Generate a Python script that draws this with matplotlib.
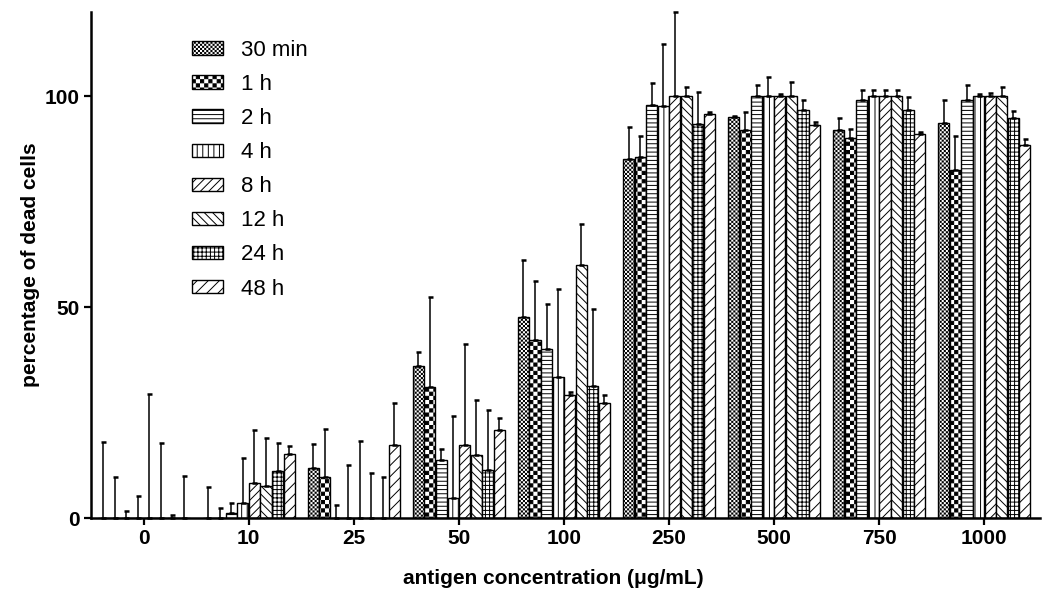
import warnings
warnings.filterwarnings('ignore')
import numpy as np
import matplotlib
matplotlib.use('Agg')
import matplotlib.pyplot as plt
import matplotlib.hatch as mhatch
from matplotlib.path import Path

# ---------------- data ----------------
concentrations = ['0', '10', '25', '50', '100', '250', '500', '750', '1000']
time_points = ['30 min', '1 h', '2 h', '4 h', '8 h', '12 h', '24 h', '48 h']

mean_30min = [0, 0, 11.8, 36.1, 47.7, 85.1, 95.1, 91.9, 93.7]
mean_1h = [0, 0, 9.8, 31.1, 42.3, 85.6, 91.9, 90.2, 82.6]
mean_2h = [0, 1.3, 0, 13.7, 40.1, 97.9, 100, 99.2, 99.1]
mean_4h = [0, 3.5, 0, 4.8, 33.5, 97.7, 100, 100, 100]
mean_8h = [0, 8.2, 0, 17.4, 29.2, 100, 100, 100, 100]
mean_12h = [0, 7.7, 0, 15.0, 59.9, 100, 100, 100, 100]
mean_24h = [0, 11.2, 0, 11.5, 31.3, 93.4, 96.7, 96.8, 94.9]
mean_48h = [0, 15.1, 17.3, 20.9, 27.3, 95.7, 93.1, 91.0, 88.4]

err_30min = [18.1, 7.4, 5.7, 3.2, 13.6, 7.6, 0.2, 3.0, 5.5]
err_1h = [9.8, 2.3, 11.4, 21.2, 13.9, 5.0, 4.5, 2.0, 8.0]
err_2h = [1.7, 2.3, 3.0, 2.6, 10.6, 5.3, 2.6, 2.2, 3.5]
err_4h = [5.3, 10.8, 12.6, 19.4, 20.7, 14.8, 4.7, 1.4, 0.5]
err_8h = [29.4, 12.7, 18.3, 23.8, 0.7, 20.0, 0.5, 1.4, 0.8]
err_12h = [17.7, 11.3, 10.7, 13.1, 9.8, 2.2, 3.4, 1.4, 2.2]
err_24h = [0.7, 6.7, 9.8, 14.1, 18.2, 7.6, 2.4, 3.0, 1.6]
err_48h = [10.0, 2.0, 9.9, 2.9, 1.8, 0.5, 0.7, 0.5, 1.6]

means = [mean_30min, mean_1h, mean_2h, mean_4h, mean_8h, mean_12h, mean_24h, mean_48h]
errs = [err_30min, err_1h, err_2h, err_4h, err_8h, err_12h, err_24h, err_48h]

# ---------------- custom checkerboard hatches ----------------
HATCH_LW = 0.7
plt.rcParams['hatch.linewidth'] = HATCH_LW
plt.rcParams['hatch.color'] = 'black'


def make_checker(char):
    class Checker(mhatch.HatchPatternBase):
        def __init__(self, hatch, density):
            n = int(hatch.count(char) * density)
            if n % 2:
                n += 1
            self.n = n
            self.num_vertices = (n * n // 2) * 5 if n else 0

        def set_vertices_and_codes(self, vertices, codes):
            s = 1.0 / self.n
            inset = (HATCH_LW * 100 / 72) / 2 / 100
            verts = []
            cds = []
            for i in range(self.n):
                for j in range(self.n):
                    if (i + j) % 2 == 0:
                        x0, y0 = j * s + inset, i * s + inset
                        x1, y1 = (j + 1) * s - inset, (i + 1) * s - inset
                        verts += [(x0, y0), (x1, y0), (x1, y1), (x0, y1), (x0, y0)]
                        cds += [Path.MOVETO, Path.LINETO, Path.LINETO,
                                Path.LINETO, Path.CLOSEPOLY]
            vertices[:] = np.array(verts)
            codes[:] = np.array(cds)
    return Checker


mhatch._hatch_types.append(make_checker('c'))
mhatch._hatch_types.append(make_checker('k'))

hatches = ['cccccccc', 'kkkk', '----', '|||', '////', '\\\\\\\\', '++++', '///']

# ---------------- plot ----------------
plt.rcParams['font.family'] = ['Liberation Sans', 'DejaVu Sans']

fig = plt.figure(figsize=(10.46, 5.93), dpi=100)
ax = fig.add_axes([91 / 1046, 75 / 593, (1040 - 91) / 1046, (581 - 75) / 593])

x = np.arange(len(concentrations))
n_series = len(time_points)
width = 0.11

for j in range(n_series):
    pos = x + (j - (n_series - 1) / 2) * width
    ax.bar(pos, means[j], width=width * 0.96, color='white', edgecolor='black',
           linewidth=1.0, hatch=hatches[j], label=time_points[j], zorder=2)
    ax.errorbar(pos, means[j], yerr=[np.zeros(len(errs[j])), errs[j]], fmt='none',
                ecolor='black', elinewidth=1.1, capsize=1.8, capthick=1.8,
                zorder=3, clip_on=False)

ax.set_xlim(-0.5, 8.53)
ax.set_ylim(0, 120)
ax.set_xticks(x)
ax.set_xticklabels(concentrations)
ax.set_yticks([0, 50, 100])

for s in ['top', 'right']:
    ax.spines[s].set_visible(False)
for s in ['left', 'bottom']:
    ax.spines[s].set_linewidth(1.8)

ax.tick_params(axis='both', direction='out', length=5, width=1.6,
               labelsize=15, pad=3)
for lab in ax.get_xticklabels() + ax.get_yticklabels():
    lab.set_fontweight('bold')

ax.set_xlabel('antigen concentration (\u03bcg/mL)', fontsize=15, fontweight='bold')
ax.set_ylabel('percentage of dead cells', fontsize=15, fontweight='bold')
ax.xaxis.set_label_coords(0.487, -0.1)
ax.yaxis.set_label_coords(-0.054, 0.5)

leg = ax.legend(loc='upper left', bbox_to_anchor=(0.1064, 0.945), frameon=False,
                fontsize=16, handlelength=1.4, handleheight=0.55,
                handletextpad=0.8, labelspacing=0.59, borderpad=0,
                borderaxespad=0)

fig.savefig('out.png', dpi=100)
